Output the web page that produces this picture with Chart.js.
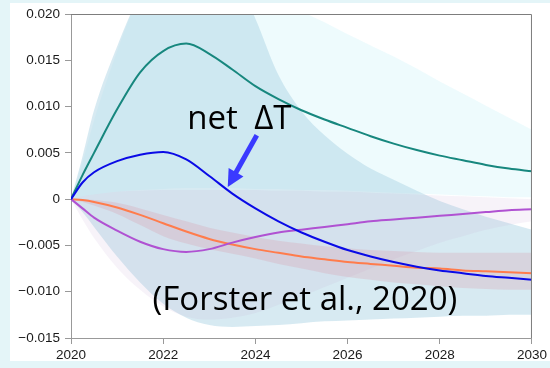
<!DOCTYPE html>
<html>
<head>
<meta charset="utf-8">
<script src="https://cdn.jsdelivr.net/npm/chart.js@4/dist/chart.umd.min.js"></script>
<style>
  html, body { margin: 0; padding: 0; background: #e4f5f8; }
  canvas { display: block; }
</style>
</head>
<body>
<canvas id="chart" width="550" height="368"></canvas>
<script>
// Years sampled along the x axis
const years = [2020, 2020.25, 2020.5, 2021, 2021.5, 2022, 2022.5, 2023, 2023.5, 2024, 2024.5,
               2025, 2025.5, 2026, 2026.5, 2027, 2027.5, 2028, 2028.5, 2029, 2029.5, 2030];

// Central estimates (K)
const tealLine   = [0, 0.0026, 0.0050, 0.0097, 0.0137, 0.0160, 0.0168, 0.0157, 0.0140, 0.0122, 0.0108,
                    0.0096, 0.0086, 0.0077, 0.0068, 0.0060, 0.0053, 0.0047, 0.0042, 0.0037, 0.0033, 0.0030];
const netLine    = [0, 0.0018, 0.0029, 0.0041, 0.0048, 0.0051, 0.0043, 0.0025, 0.0006, -0.0010, -0.0024,
                    -0.0036, -0.0046, -0.0055, -0.0062, -0.0068, -0.0073, -0.0077, -0.0080, -0.0083, -0.0085, -0.0087];
const orangeLine = [0, -0.0001, -0.0003, -0.0009, -0.0017, -0.0026, -0.0035, -0.0043, -0.0049, -0.0054, -0.0058,
                    -0.0062, -0.0065, -0.0068, -0.0070, -0.0072, -0.0074, -0.0075, -0.0077, -0.0078, -0.0079, -0.0080];
const purpleLine = [0, -0.0010, -0.0020, -0.0034, -0.0046, -0.0054, -0.0057, -0.0054, -0.0047, -0.0041, -0.0036,
                    -0.0033, -0.0030, -0.0027, -0.0024, -0.0022, -0.0020, -0.0018, -0.0016, -0.0014, -0.0012, -0.0011];

// Uncertainty ranges (upper / lower)
const tealUpper   = [0, 0.0040, 0.0085, 0.0160, 0.0225, 0.0285, 0.0315, 0.0312, 0.0285, 0.0255, 0.0228,
                     0.0204, 0.0191, 0.0178, 0.0166, 0.0154, 0.0141, 0.0127, 0.0114, 0.0101, 0.0088, 0.0075];
const tealLower   = [0, 0.0003, 0.0005, 0.0008, 0.0010, 0.0011, 0.0012, 0.0012, 0.0012, 0.0011, 0.0011,
                     0.0010, 0.0010, 0.0009, 0.0008, 0.0007, 0.0006, 0.0005, 0.0004, 0.0003, 0.0002, 0.0002];
const netUpper    = [0, 0.0046, 0.0096, 0.0165, 0.0222, 0.0262, 0.0280, 0.0275, 0.0248, 0.0195, 0.0134,
                     0.0095, 0.0069, 0.0049, 0.0033, 0.0021, 0.0009, -0.0002, -0.0011, -0.0019, -0.0026, -0.0033];
const netLower    = [0, -0.0014, -0.0030, -0.0062, -0.0090, -0.0113, -0.0128, -0.0136, -0.0138, -0.0137, -0.0136,
                     -0.0134, -0.0132, -0.0131, -0.0130, -0.0129, -0.0128, -0.0127, -0.0126, -0.0126, -0.0125, -0.0125];
const purpleUpper = [0, 0.0003, 0.0005, 0.0008, 0.0009, 0.0010, 0.0010, 0.0010, 0.0010, 0.0010, 0.0009,
                     0.0009, 0.0008, 0.0008, 0.0007, 0.0006, 0.0005, 0.0004, 0.0003, 0.0002, 0.0001, 0.0000];
const purpleLower = [0, -0.0022, -0.0042, -0.0074, -0.0098, -0.0116, -0.0127, -0.0130, -0.0128, -0.0123, -0.0114,
                     -0.0105, -0.0095, -0.0085, -0.0075, -0.0065, -0.0056, -0.0047, -0.0040, -0.0033, -0.0028, -0.0024];
const orangeUpper = [0, 0, -0.0001, -0.0004, -0.0010, -0.0017, -0.0024, -0.0031, -0.0036, -0.0041, -0.0045,
                     -0.0048, -0.0051, -0.0053, -0.0055, -0.0056, -0.0057, -0.0058, -0.0058, -0.0058, -0.0058, -0.0058];
const orangeLower = [0, -0.0003, -0.0007, -0.0016, -0.0028, -0.0040, -0.0048, -0.0054, -0.0059, -0.0064, -0.0070,
                     -0.0075, -0.0080, -0.0084, -0.0087, -0.0090, -0.0092, -0.0094, -0.0096, -0.0097, -0.0098, -0.0098];

// Axis tick labels
const xTickLabels = ['2020', '2022', '2024', '2026', '2028', '2030'];
const yTickLabels = ['\u22120.015', '\u22120.010', '\u22120.005', '0', '0.005', '0.010', '0.015', '0.020'];

const pts = arr => arr.map((v, i) => ({ x: years[i], y: v }));

function line(data, color) {
  return { data: pts(data), borderColor: color, borderWidth: 2, pointRadius: 0,
           fill: false, cubicInterpolationMode: 'monotone' };
}
function bandEdge(data, color, target) {
  return { data: pts(data), borderWidth: 0, borderColor: 'rgba(0,0,0,0)', pointRadius: 0,
           backgroundColor: color, fill: target === undefined ? false : { target: target },
           cubicInterpolationMode: 'monotone' };
}

const datasets = [
  line(netLine, '#0a0ae6'),                            // 0
  line(tealLine, '#17877e'),                           // 1
  line(purpleLine, '#b052d2'),                         // 2
  line(orangeLine, '#ff7c4c'),                         // 3
  bandEdge(orangeUpper, 'rgba(215,150,165,0.26)', 5),  // 4
  bandEdge(orangeLower, null),                         // 5
  bandEdge(purpleUpper, 'rgba(200,170,215,0.14)', 7),  // 6
  bandEdge(purpleLower, null),                         // 7
  bandEdge(netUpper, 'rgba(172,212,228,0.48)', 9),     // 8
  bandEdge(netLower, null),                            // 9
  bandEdge(tealUpper, 'rgba(205,243,250,0.35)', 11),   // 10
  bandEdge(tealLower, null)                            // 11
];

// Slide backdrop behind the figure panel
const backdrop = {
  id: 'backdrop',
  beforeDraw(chart) {
    const ctx = chart.ctx;
    ctx.save();
    ctx.fillStyle = '#e4f5f8';
    ctx.fillRect(0, 0, chart.width, chart.height);
    ctx.fillStyle = '#ffffff';
    ctx.fillRect(10, 3, chart.width - 10, 358);
    ctx.restore();
  }
};

// Top and right edges of the plotting box
const frame = {
  id: 'frame',
  afterDraw(chart) {
    const { ctx, chartArea: a } = chart;
    ctx.save();
    ctx.strokeStyle = '#7d7d7d';
    ctx.lineWidth = 1;
    ctx.beginPath();
    ctx.moveTo(a.left, a.top + 0.5);
    ctx.lineTo(a.right - 0.5, a.top + 0.5);
    ctx.lineTo(a.right - 0.5, a.bottom);
    ctx.stroke();
    ctx.restore();
  }
};

// Text labels and the arrow pointing at the net curve
const notes = {
  id: 'notes',
  afterDraw(chart) {
    const { ctx } = chart;
    const xs = chart.scales.x, ys = chart.scales.y;
    const px = (x, y) => [xs.getPixelForValue(x), ys.getPixelForValue(y)];
    ctx.save();
    ctx.fillStyle = '#000';
    ctx.textBaseline = 'alphabetic';
    ctx.textAlign = 'left';
    ctx.font = '33px "Open Sans", sans-serif';
    const [tx, ty] = px(2022.52, 0.00756);
    ctx.fillText('net\u2002\u0394T', tx, ty);
    const [fx, fy] = px(2021.77, -0.0120);
    ctx.fillText('(Forster et al., 2020)', fx, fy);

    const [x0, y0] = px(2024.03, 0.0069);
    const [x1, y1] = px(2023.40, 0.0013);
    const dx = x1 - x0, dy = y1 - y0, len = Math.hypot(dx, dy);
    const ux = dx / len, uy = dy / len, nx = -uy, ny = ux;
    const head = 17, half = 8.5;
    const bx = x1 - ux * head, by = y1 - uy * head;
    ctx.strokeStyle = '#3a3aff';
    ctx.fillStyle = '#3a3aff';
    ctx.lineWidth = 5;
    ctx.beginPath();
    ctx.moveTo(x0, y0);
    ctx.lineTo(bx + ux * 2, by + uy * 2);
    ctx.stroke();
    ctx.beginPath();
    ctx.moveTo(x1, y1);
    ctx.lineTo(bx + nx * half, by + ny * half);
    ctx.lineTo(bx - nx * half, by - ny * half);
    ctx.closePath();
    ctx.fill();
    ctx.restore();
  }
};

const tickFont = { family: '"Liberation Sans", Arial, sans-serif', size: 13.5 };

new Chart(document.getElementById('chart'), {
  type: 'line',
  data: { datasets },
  plugins: [backdrop, frame, notes],
  options: {
    responsive: false,
    animation: false,
    layout: { padding: { left: 0, top: 14, right: 15, bottom: 0 } },
    plugins: { legend: { display: false }, tooltip: { enabled: false } },
    scales: {
      x: {
        type: 'linear', min: 2020, max: 2030,
        afterFit: s => { s.height = 30; },
        grid: { display: true, drawOnChartArea: false, drawTicks: true, tickLength: 6, color: '#999' },
        border: { display: true, color: '#999', width: 1 },
        ticks: { stepSize: 2, padding: 3, color: '#1a1a1a', font: tickFont, maxRotation: 0,
                 callback: (v, i) => xTickLabels[i] }
      },
      y: {
        type: 'linear', min: -0.015, max: 0.020,
        afterFit: s => { s.width = 71; },
        grid: { display: true, drawOnChartArea: false, drawTicks: true, tickLength: 6, color: '#999' },
        border: { display: true, color: '#999', width: 1 },
        ticks: { stepSize: 0.005, padding: 5, color: '#1a1a1a', font: tickFont,
                 callback: (v, i) => yTickLabels[i] }
      }
    }
  }
});
</script>
</body>
</html>
